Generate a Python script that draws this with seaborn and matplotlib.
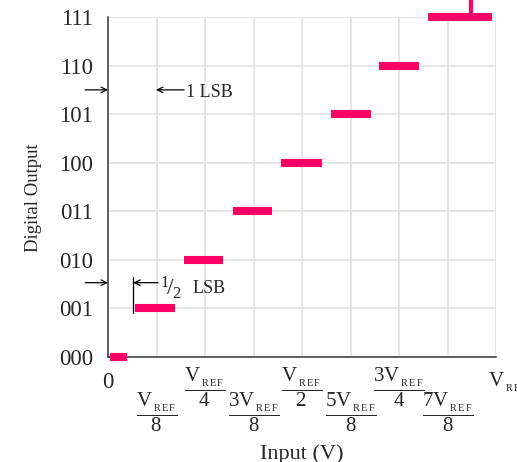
import numpy as np
import pandas as pd
import matplotlib
matplotlib.use("Agg")
import matplotlib.pyplot as plt
import seaborn as sns

# data (x in units of V_REF/8, y in output codes)
codes = [0, 1, 2, 3, 4, 5, 6, 7]
code_labels = ["000", "001", "010", "011", "100", "101", "110", "111"]
bar_starts = [0.04, 0.56, 1.57, 2.58, 3.57, 4.60, 5.59, 6.60]
bar_ends = [0.39, 1.38, 2.37, 3.38, 4.41, 5.42, 6.41, 7.92]
x_ticks = [0, 1, 2, 3, 4, 5, 6, 7, 8]
vref = r"\mathrm{V}_{\,{}_{\mathrm{R\,E\,F}}}"
x_labels = ["0",
            r"$\dfrac{" + vref + "}{8}$",
            r"$\dfrac{" + vref + "}{4}$",
            r"$\dfrac{3" + vref + "}{8}$",
            r"$\dfrac{" + vref + "}{2}$",
            r"$\dfrac{5" + vref + "}{8}$",
            r"$\dfrac{3" + vref + "}{4}$",
            r"$\dfrac{7" + vref + "}{8}$",
            r"$" + vref + "$"]

pink = "#ff0066"

sns.set_style("white")
plt.rcParams["font.family"] = ["Liberation Serif", "DejaVu Serif"]
plt.rcParams["mathtext.fontset"] = "custom"
plt.rcParams["mathtext.rm"] = "Liberation Serif"
plt.rcParams["mathtext.it"] = "Liberation Serif:italic"
plt.rcParams["mathtext.bf"] = "Liberation Serif:bold"

fig = plt.figure(figsize=(5.17, 4.62), dpi=100)
ax = fig.add_axes([108 / 517, 1 - 357 / 462, 388 / 517, 340 / 462])

# long format for the code steps
seg = pd.DataFrame({
    "x": bar_starts + bar_ends,
    "y": codes + codes,
    "code": codes + codes,
})
sns.lineplot(data=seg, x="x", y="y", units="code", estimator=None, sort=False,
             color=pink, lw=5.8, solid_capstyle="butt", clip_on=False,
             legend=False, ax=ax, zorder=5)

# stub going off the top at the last transition
ax.plot([7.48, 7.48], [7, 7.4], color=pink, lw=3, clip_on=False, zorder=5)

ax.set_xlim(0, 8)
ax.set_ylim(0, 7)

# grid
for xv in x_ticks[1:]:
    ax.axvline(xv, color="#e2e2e2", lw=1.2, zorder=0)
for yv in codes[1:]:
    ax.axhline(yv, color="#e2e2e2", lw=1.2, zorder=0)

for s in ["top", "right"]:
    ax.spines[s].set_visible(False)
for s in ["left", "bottom"]:
    ax.spines[s].set_color("#333333")
    ax.spines[s].set_linewidth(1.1)

ax.set_yticks(codes)
ax.set_yticklabels(code_labels, fontsize=16.5)
ax.set_xticks(x_ticks)
ax.set_xticklabels([])
ax.tick_params(axis="y", direction="inout", length=9, width=1.1, color="#333333", pad=6)
ax.tick_params(axis="x", direction="inout", length=14, width=1.1, color="#333333")

# x tick labels, staggered
for xv, lab in zip(x_ticks, x_labels):
    ha, dx = "center", 0
    if xv == 0:
        off, fs = -25, 16.5
    elif xv == 8:
        off, fs = -25, 15
        ha, dx = "left", -8
    elif xv % 2 == 0:
        off, fs = -30, 15
    else:
        off, fs = -55, 15
    ax.annotate(lab, xy=(xv, 0), xytext=(dx, off), textcoords="offset pixels",
                ha=ha, va="center", fontsize=fs, annotation_clip=False)

ax.set_xlabel("Input (V)", fontsize=16, labelpad=52)
ax.set_ylabel("Digital Output", fontsize=13.5)
ax.yaxis.set_label_coords(-0.17, 0.47)

arrow = dict(arrowstyle="->", color="black", lw=0.9, shrinkA=0, shrinkB=0)

# 1 LSB
ax.annotate("", xy=(0, 5.5), xytext=(-0.47, 5.5), arrowprops=arrow, annotation_clip=False)
ax.annotate("", xy=(0.99, 5.5), xytext=(1.57, 5.5), arrowprops=arrow)
ax.text(1.6, 5.45, "1 LSB", fontsize=13, va="center", ha="left")

# 1/2 LSB
ax.annotate("", xy=(0, 1.53), xytext=(-0.47, 1.53), arrowprops=arrow, annotation_clip=False)
ax.plot([0.52, 0.52], [0.91, 1.65], color="black", lw=0.9)
ax.annotate("", xy=(0.52, 1.53), xytext=(1.03, 1.53), arrowprops=arrow)
ax.text(1.08, 1.42, r"${}^{1}\!/_{2}$", fontsize=17, va="center", ha="left")
ax.text(1.75, 1.42, "LSB", fontsize=13, va="center", ha="left")

fig.savefig("out.png", dpi=100)
